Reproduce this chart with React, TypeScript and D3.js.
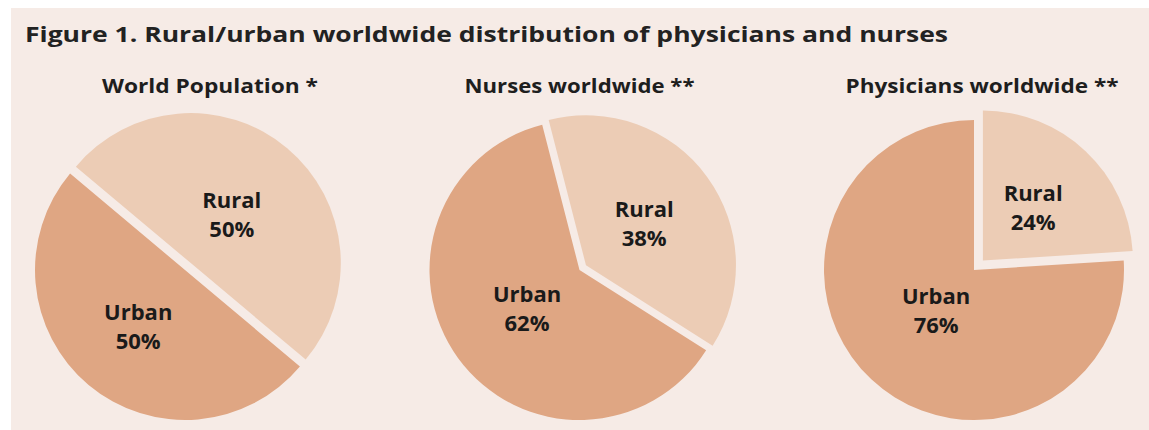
import React, { useEffect, useRef } from 'react'
import * as d3 from 'd3'

// chart data
const chartTitle = 'Figure 1. Rural/urban worldwide distribution of physicians and nurses'
const pieTitles = ['World Population *', 'Nurses worldwide **', 'Physicians worldwide **']
const categories = ['Rural', 'Urban']
const ruralShare = [50, 38, 24]
const urbanShare = [50, 62, 76]
// rotation of the rural slice start (degrees clockwise from 12 o'clock)
const ruralStartDeg = [-50, -14.4, 0]
// how far the rural slice is pulled out
const explodeBy = [9, 8, 13]

const W = 1149
const H = 430
const colors: Record<string, string> = { Rural: '#ecccb5', Urban: '#dfa683' }
const FONT = "'Open Sans', 'DejaVu Sans', sans-serif"

const App = () => {
  const svgRef = useRef<SVGSVGElement>(null)

  useEffect(() => {
    const svg = d3.select(svgRef.current)
    svg.selectAll('*').remove()

    svg.append('rect').attr('width', W).attr('height', H).attr('fill', '#ffffff')
    svg.append('rect').attr('x', 11).attr('y', 8).attr('width', W - 11).attr('height', H - 8).attr('fill', '#f6ebe6')

    svg.append('text')
      .attr('x', 25).attr('y', 42)
      .attr('font-family', FONT).attr('font-weight', 700).attr('font-size', 21.5)
      .attr('fill', '#222')
      .attr('textLength', 923).attr('lengthAdjust', 'spacingAndGlyphs')
      .text(chartTitle)

    const r = 150
    const cx = d3.scalePoint<string>().domain(pieTitles).range([185, 974])
    const cy = 270
    const titleWidths = [216, 230, 273]
    const titleShift = [25, 0, 8]

    const arc = d3.arc<d3.PieArcDatum<number>>().innerRadius(0).outerRadius(r)

    pieTitles.forEach((t, i) => {
      const x0 = cx(t) as number
      const g = svg.append('g').attr('transform', `translate(${x0},${cy})`)

      svg.append('text')
        .attr('x', x0 + titleShift[i]).attr('y', 93)
        .attr('text-anchor', 'middle')
        .attr('font-family', FONT).attr('font-weight', 700).attr('font-size', 20)
        .attr('fill', '#1e1e1e')
        .attr('textLength', titleWidths[i]).attr('lengthAdjust', 'spacingAndGlyphs')
        .text(t)

      const start = (ruralStartDeg[i] * Math.PI) / 180
      const pie = d3.pie<number>().sort(null).startAngle(start).endAngle(start + 2 * Math.PI)
      const arcs = pie([ruralShare[i], urbanShare[i]])

      arcs.forEach((a, j) => {
        const cat = categories[j]
        const mid = (a.startAngle + a.endAngle) / 2
        const d = cat === 'Rural' ? explodeBy[i] : 0
        g.append('path')
          .attr('transform', `translate(${Math.sin(mid) * d},${-Math.cos(mid) * d})`)
          .attr('d', arc(a) as string)
          .attr('fill', colors[cat])
      })

      arcs.forEach((a, j) => {
        const cat = categories[j]
        const mid = (a.startAngle + a.endAngle) / 2
        const half = (a.endAngle - a.startAngle) / 2
        // sector centroid distance, blended toward a fixed radius
        const geom = (2 * r * Math.sin(half)) / (3 * half)
        const dist = (82 + geom) / 2
        const lx = Math.sin(mid) * dist
        const ly = -Math.cos(mid) * dist
        const lab = g.append('text')
          .attr('text-anchor', 'middle')
          .attr('font-family', FONT).attr('font-weight', 700).attr('font-size', 22)
          .attr('fill', '#1a1a1a')
        lab.append('tspan').attr('x', lx).attr('y', ly - 6).text(cat)
        lab.append('tspan').attr('x', lx).attr('y', ly + 23).text(`${a.data}%`)
      })
    })
  }, [])

  return (
    <div style={{ position: 'fixed', left: 0, top: 0 }}>
      <svg ref={svgRef} width={W} height={H} style={{ display: 'block' }}></svg>
    </div>
  )
}

export default App
